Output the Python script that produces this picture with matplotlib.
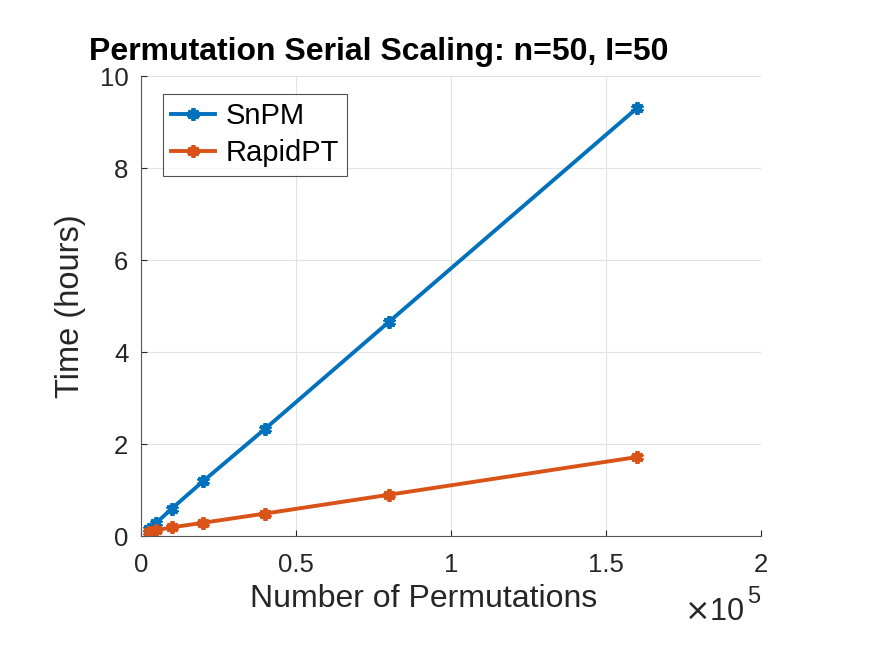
import matplotlib.pyplot as plt

plt.rcParams["font.family"] = ["Liberation Sans", "DejaVu Sans"]

# permutations and run time in hours
perms = [2500, 5000, 10000, 20000, 40000, 80000, 160000]
snpm_hours = [0.15, 0.29, 0.60, 1.19, 2.33, 4.66, 9.31]
rapidpt_hours = [0.10, 0.13, 0.19, 0.29, 0.49, 0.90, 1.72]

x_ticks = [0, 0.5, 1, 1.5, 2]
x_tick_labels = ["0", "0.5", "1", "1.5", "2"]
y_ticks = [0, 2, 4, 6, 8, 10]

BLUE = "#0072BD"
ORANGE = "#D95319"
DARK = "#262626"

fig = plt.figure(figsize=(8.75, 6.57), dpi=100)
ax = fig.add_axes([0.161, 0.184, 0.709, 0.700])

xs = [p / 1e5 for p in perms]
ax.plot(xs, snpm_hours, color=BLUE, lw=2.8, marker=(6, 2, 0), ms=9, mew=2.8,
        label="SnPM")
ax.plot(xs, rapidpt_hours, color=ORANGE, lw=2.8, marker=(6, 2, 0), ms=9, mew=2.8,
        label="RapidPT")

ax.set_xlim(0, 2)
ax.set_ylim(0, 10)
ax.set_xticks(x_ticks)
ax.set_xticklabels(x_tick_labels)
ax.set_yticks(y_ticks)
ax.grid(True, color="#e3e3e3", lw=0.8)
ax.set_axisbelow(True)
ax.tick_params(direction="in", length=4, colors=DARK, labelsize=18.5)
ax.tick_params(axis="x", pad=12)
ax.tick_params(axis="y", pad=9)
for side in ["top", "right"]:
    ax.spines[side].set_visible(False)
for side in ["left", "bottom"]:
    ax.spines[side].set_color("#555555")
    ax.spines[side].set_linewidth(0.8)

ax.set_xlabel("Number of Permutations", fontsize=23, color=DARK)
ax.xaxis.set_label_coords(0.455, -0.105, transform=ax.transAxes)
ax.xaxis.label.set_va("top")
ax.set_ylabel("Time (hours)", fontsize=23.5, color=DARK, labelpad=10)
ax.set_title("Permutation Serial Scaling: n=50, I=50", fontsize=23,
             fontweight="bold", loc="left", x=-0.083, pad=12)
ax.text(0.875, -0.165, r"$\times$10", transform=ax.transAxes, fontsize=22,
        color=DARK, ha="left", va="center")
ax.text(0.977, -0.133, "5", transform=ax.transAxes, fontsize=17,
        color=DARK, ha="left", va="center")

leg = ax.legend(loc="upper left", bbox_to_anchor=(0.035, 0.962), fontsize=21,
                frameon=True, fancybox=False, handlelength=1.5,
                borderpad=0.3, labelspacing=0.3, handletextpad=0.35,
                borderaxespad=0)
leg.get_frame().set_edgecolor(DARK)
leg.get_frame().set_linewidth(0.8)

fig.savefig("out.png", dpi=100, facecolor="white")
